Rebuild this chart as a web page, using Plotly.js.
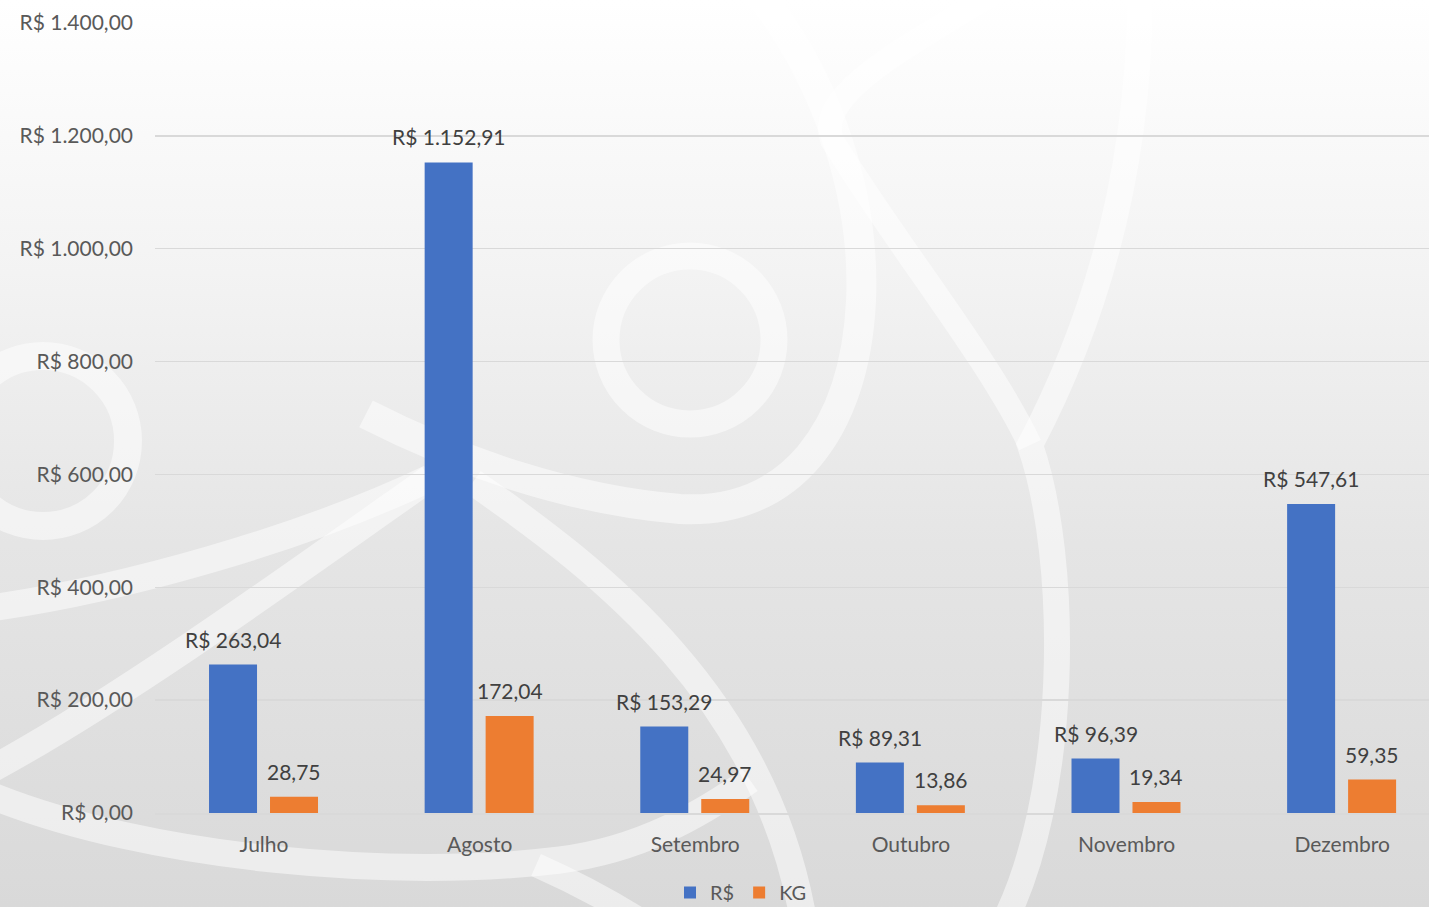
<!DOCTYPE html>
<html>
<head>
<meta charset="utf-8">
<script src="https://cdn.plot.ly/plotly-3.0.1.min.js"></script>
<style>
html,body{margin:0;padding:0;width:1429px;height:907px;overflow:hidden;
background:linear-gradient(to bottom,#ffffff 0%,#f3f3f3 30%,#e5e5e5 60%,#d9d9d9 100%);}
#chart{width:1429px;height:907px;}
</style>
</head>
<body>
<div id="chart"></div>
<script>
// ---- data ----
const months = ["Julho","Agosto","Setembro","Outubro","Novembro","Dezembro"];
const valoresRS = [263.04, 1152.91, 153.29, 89.31, 96.39, 547.61];
const valoresKG = [28.75, 172.04, 24.97, 13.86, 19.34, 59.35];
const seriesNames = ["R$","KG"];
const yTicks = [0,200,400,600,800,1000,1200,1400];

// ---- layout geometry (pixels) ----
const L = 155, T = 23, W = 1274, H = 790;
const px = x => (x - L) / W;
const py = y => (T + H - y) / H;

function fmtBR(v){
  const parts = v.toFixed(2).split(".");
  parts[0] = parts[0].replace(/\B(?=(\d{3})+(?!\d))/g, ".");
  return parts[0] + "," + parts[1];
}

const barW = 0.2226, offA = -0.255, offB = 0.0278;

const traces = [
  {type:"bar", name:seriesNames[0], x:months, y:valoresRS, width:barW, offset:offA,
   marker:{color:"#4472C4"}, hoverinfo:"y"},
  {type:"bar", name:seriesNames[1], x:months, y:valoresKG, width:barW, offset:offB,
   marker:{color:"#ED7D31"}, hoverinfo:"y"}
];

const FONT = "Lato, 'Open Sans', sans-serif";
const labelFont = {family:FONT, size:21, color:"#404040"};
const annotations = [];
valoresRS.forEach((v,i)=>annotations.push({x:i+offA+barW/2, y:v, xref:"x", yref:"y",
  text:"R$ "+fmtBR(v), showarrow:false, yanchor:"bottom", yshift:11, font:labelFont}));
valoresKG.forEach((v,i)=>annotations.push({x:i+offB+barW/2, y:v, xref:"x", yref:"y",
  text:fmtBR(v), showarrow:false, yanchor:"bottom", yshift:11, font:labelFont}));

// ---- decorative watermark strokes (pixel coords -> paper) ----
function pathFrom(cmds){
  return cmds.map(c=>{
    const op = c[0], pts = c.slice(1);
    let s = op;
    for(let k=0;k<pts.length;k+=2){ s += (k?" ":"") + px(pts[k]).toFixed(4) + "," + py(pts[k+1]).toFixed(4); }
    return s;
  }).join(" ");
}
const wm = "rgba(255,255,255,0.5)";
const strokes = [
  [30,[["M",366,414],["C",460,462,570,500,680,509],["C",790,515,855,430,861,300],["C",866,180,815,60,755,-10]]],
  [24,[["M",1000,-10],["C",900,50,815,95,832,140],["C",900,250,990,360,1030,445]]],
  [26,[["M",1140,-10],["C",1140,200,1080,350,1030,445],["C",1070,560,1070,800,1000,930]]],
  [27,[["M",-10,608],["C",120,590,300,540,430,478]]],
  [27,[["M",-10,770],["C",120,700,300,570,430,478]]],
  [27,[["M",473,482],["C",600,570,770,700,805,930]]],
  [27,[["M",-10,795],["C",150,860,400,880,560,860],["C",640,850,700,815,750,780]]],
  [24,[["M",536,865],["C",570,880,600,895,640,920]]]
];
const shapes = strokes.map(s=>({type:"path", xref:"paper", yref:"paper", layer:"below",
  path:pathFrom(s[1]), line:{color:wm, width:s[0]}}));
function ring(cx,cy,r,w){
  return {type:"circle", xref:"paper", yref:"paper", layer:"below",
    x0:px(cx-r), x1:px(cx+r), y0:py(cy+r), y1:py(cy-r), line:{color:wm, width:w}};
}
shapes.push(ring(690,340,84,27));
shapes.push(ring(43,441,85,28));

const axisFont = {family:FONT, size:21, color:"#595959"};

const layout = {
  width:1429, height:907,
  margin:{l:L, r:1429-L-W, t:T, b:907-T-H, autoexpand:false},
  paper_bgcolor:"rgba(0,0,0,0)", plot_bgcolor:"rgba(0,0,0,0)",
  separators:",.",
  barmode:"overlay",
  showlegend:true,
  legend:{orientation:"h", x:px(741), xanchor:"center", y:py(873), yanchor:"top",
    font:{family:FONT, size:20, color:"#595959"}, bgcolor:"rgba(0,0,0,0)", itemwidth:30,
    tracegroupgap:0},
  xaxis:{type:"category", range:[-0.5056, 5.403], showgrid:false, zeroline:false,
    showline:true, linecolor:"#d9d9d9", linewidth:1.5, ticks:"", tickfont:axisFont,
    ticklabelstandoff:12, fixedrange:true},
  yaxis:{range:[0,1400], tickvals:yTicks, ticktext:yTicks.map(v=>"R$ "+fmtBR(v)),
    showgrid:true, gridcolor:"#d9d9d9", gridwidth:1.5, zeroline:false, showline:false,
    ticks:"", tickfont:axisFont, ticklabelstandoff:21, fixedrange:true},
  annotations:annotations,
  shapes:shapes,
  font:axisFont
};

Plotly.newPlot("chart", traces, layout, {displayModeBar:false, staticPlot:true});
</script>
</body>
</html>
